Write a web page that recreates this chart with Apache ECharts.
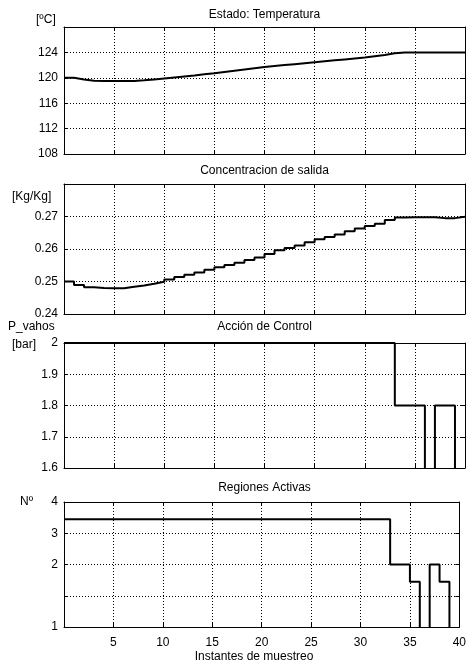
<!DOCTYPE html>
<html>
<head>
<meta charset="utf-8">
<style>
  html, body { margin: 0; padding: 0; background: #fff; }
  #chart { width: 469px; height: 664px; }
</style>
<script src="https://cdn.jsdelivr.net/npm/echarts@6/dist/echarts.min.js"></script>
</head>
<body>
<div id="chart"></div>
<script>
// Sampling instants: one held value per interval [k, k+1], k = 0..39
const instants = Array.from({ length: 41 }, (_, k) => k);

// Estado: Temperatura [ºC]
const temperatura = [
  120.0, 119.75, 119.55, 119.5, 119.5, 119.5, 119.5, 119.6, 119.75, 119.9,
  120.05, 120.2, 120.35, 120.55, 120.7, 120.9, 121.1, 121.3, 121.5, 121.7,
  121.85, 122.0, 122.15, 122.3, 122.45, 122.6, 122.75, 122.9, 123.05, 123.2,
  123.4, 123.6, 123.85, 124.0, 124.0, 124.0, 124.0, 124.0, 124.0, 124.0
];

// Concentracion de salida [Kg/Kg]
const concentracion = [
  0.2500, 0.2489, 0.2482, 0.2480, 0.2479, 0.2479, 0.2484, 0.2488, 0.2493, 0.2499,
  0.2506, 0.2514, 0.2521, 0.2528, 0.2536, 0.2544, 0.2551, 0.2558, 0.2566, 0.2574,
  0.2585, 0.2596, 0.2603, 0.2611, 0.2621, 0.2630, 0.2637, 0.2645, 0.2655, 0.2663,
  0.2671, 0.2678, 0.2689, 0.2697, 0.2698, 0.2698, 0.2698, 0.2695, 0.2695, 0.2699
];

// Acción de Control: P_vahos [bar] (1.5 lies below the plotted range)
const pVahos = [
  2.0, 2.0, 2.0, 2.0, 2.0, 2.0, 2.0, 2.0, 2.0, 2.0,
  2.0, 2.0, 2.0, 2.0, 2.0, 2.0, 2.0, 2.0, 2.0, 2.0,
  2.0, 2.0, 2.0, 2.0, 2.0, 2.0, 2.0, 2.0, 2.0, 2.0,
  2.0, 2.0, 2.0, 1.8, 1.8, 1.8, 1.5, 1.8, 1.8, 1.5
];

// Regiones Activas, on the Nº axis scale below (-0.5 lies below the plotted range)
const regiones = [
  3.45, 3.45, 3.45, 3.45, 3.45, 3.45, 3.45, 3.45, 3.45, 3.45,
  3.45, 3.45, 3.45, 3.45, 3.45, 3.45, 3.45, 3.45, 3.45, 3.45,
  3.45, 3.45, 3.45, 3.45, 3.45, 3.45, 3.45, 3.45, 3.45, 3.45,
  3.45, 3.45, 3.45, 2, 2, 1.45, -0.5, 2, 1.45, -0.5
];
// Tick labels of the Nº axis, for axis values 0..4
const regionTickLabels = ['1', '', '2', '3', '4'];

const titles = ['Estado: Temperatura', 'Concentracion de salida', 'Acción de Control', 'Regiones Activas'];
const xAxisTitle = 'Instantes de muestreo';

const FONT = 'Liberation Sans, Arial, sans-serif';
const BLACK = '#000';
const DOT = [1, 2];

const grids = [
  { left: 64, width: 401, top: 27, height: 127 },
  { left: 64, width: 401, top: 184, height: 130 },
  { left: 64, width: 401, top: 343, height: 125 },
  { left: 64, width: 401, top: 502, height: 125 }
];

const yScales = [
  { min: 108, max: 128, interval: 4, fmt: v => (v >= 127.9 ? '' : String(Math.round(v))) },
  { min: 0.24, max: 0.28, interval: 0.01, fmt: v => (v >= 0.2795 ? '' : (Math.round(v * 100) / 100).toString()) },
  { min: 1.6, max: 2.0, interval: 0.1, fmt: v => (Math.round(v * 10) / 10).toString() },
  { min: 0, max: 4, interval: 1, fmt: v => regionTickLabels[Math.round(v)] }
];

const seriesValues = [temperatura, concentracion, pVahos, regiones];

const xAxes = [];
const yAxes = [];
const series = [];

grids.forEach((g, i) => {
  const isLast = i === grids.length - 1;
  // bottom x axis with grid lines
  xAxes.push({
    type: 'value', gridIndex: i, position: 'bottom', min: 0, max: 40, interval: 5,
    axisLine: { show: true, onZero: false, lineStyle: { color: BLACK, width: 1 } },
    axisTick: { show: true, inside: true, length: 4, lineStyle: { color: BLACK } },
    axisLabel: {
      show: isLast, margin: 10, color: BLACK, fontSize: 12, fontFamily: FONT,
      formatter: v => (v === 0 ? '' : String(v))
    },
    splitLine: { show: true, lineStyle: { color: BLACK, width: 1, type: DOT } }
  });
  // mirrored top x axis (border + ticks)
  xAxes.push({
    type: 'value', gridIndex: i, position: 'top', min: 0, max: 40, interval: 5,
    axisLine: { show: true, onZero: false, lineStyle: { color: BLACK, width: 1 } },
    axisTick: { show: true, inside: true, length: 4, lineStyle: { color: BLACK } },
    axisLabel: { show: false },
    splitLine: { show: false }
  });
  const s = yScales[i];
  yAxes.push({
    type: 'value', gridIndex: i, position: 'left', min: s.min, max: s.max, interval: s.interval,
    axisLine: { show: true, onZero: false, lineStyle: { color: BLACK, width: 1 } },
    axisTick: { show: true, inside: true, length: 4, lineStyle: { color: BLACK } },
    axisLabel: { show: true, margin: 6, color: BLACK, fontSize: 12, fontFamily: FONT, formatter: s.fmt },
    splitLine: { show: true, lineStyle: { color: BLACK, width: 1, type: DOT } }
  });
  // mirrored right y axis (border + ticks)
  yAxes.push({
    type: 'value', gridIndex: i, position: 'right', min: s.min, max: s.max, interval: s.interval,
    axisLine: { show: true, onZero: false, lineStyle: { color: BLACK, width: 1 } },
    axisTick: { show: true, inside: true, length: 4, lineStyle: { color: BLACK } },
    axisLabel: { show: false },
    splitLine: { show: false }
  });
  const vals = seriesValues[i];
  series.push({
    type: 'line', xAxisIndex: 2 * i, yAxisIndex: 2 * i,
    step: 'end', symbol: 'none', clip: true, animation: false,
    lineStyle: { color: BLACK, width: 2 },
    data: instants.map(k => [k, vals[Math.min(k, vals.length - 1)]])
  });
});

function label(text, x, y, align) {
  return {
    text, left: x, top: y, padding: 0,
    textAlign: align || 'left', textVerticalAlign: 'middle',
    textStyle: { color: BLACK, fontSize: 12, fontWeight: 'normal', fontFamily: FONT }
  };
}

const titleItems = [
  label(titles[0], 264.5, 15, 'center'),
  label(titles[1], 264.5, 171, 'center'),
  label(titles[2], 264.5, 327, 'center'),
  label(titles[3], 264.5, 488, 'center'),
  label(xAxisTitle, 254, 657, 'center'),
  label('[ºC]', 36, 20),
  label('[Kg/Kg]', 12, 197),
  label('P_vahos', 8, 327),
  label('[bar]', 12, 345),
  label('Nº', 20, 502)
];

const chart = echarts.init(document.getElementById('chart'), null, { renderer: 'canvas' });
chart.setOption({
  backgroundColor: '#fff',
  animation: false,
  title: titleItems,
  grid: grids,
  xAxis: xAxes,
  yAxis: yAxes,
  series
});
</script>
</body>
</html>
